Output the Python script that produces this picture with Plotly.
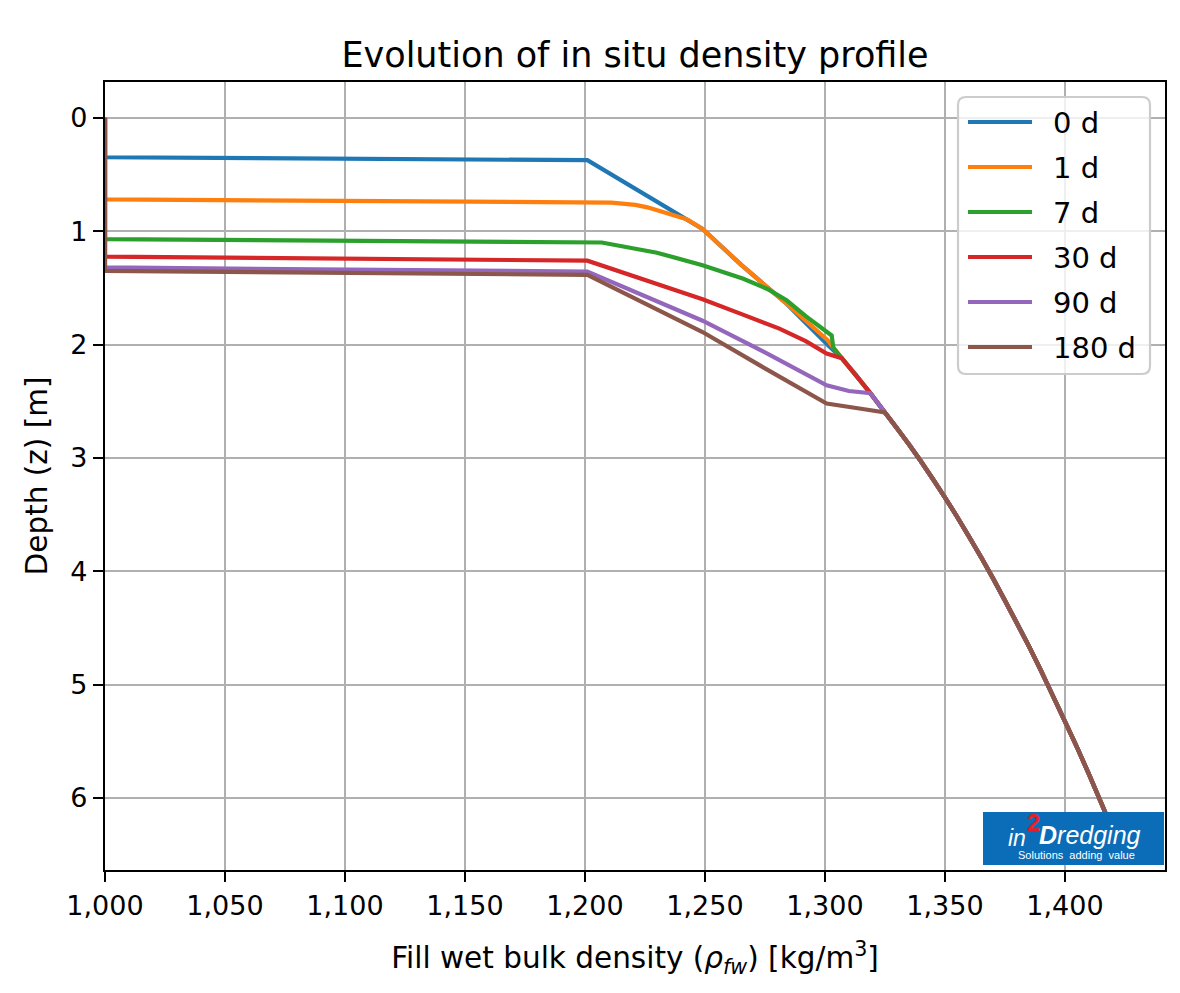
import plotly.graph_objects as go

# ---------------- data ----------------
labels = ["0 d", "1 d", "7 d", "30 d", "90 d", "180 d"]
colors = ["#1f77b4", "#ff7f0e", "#2ca02c", "#d62728", "#9467bd", "#8c564b"]

# common deep part of the profile (all curves merge into it)
tail_rho = [1319, 1325, 1330, 1335, 1340, 1345, 1350, 1355, 1360, 1365, 1370, 1375,
            1380, 1385, 1390, 1395, 1400, 1405, 1410, 1415, 1421]
tail_z = [2.43, 2.60, 2.737, 2.88, 3.03, 3.186, 3.348, 3.517, 3.692, 3.873, 4.061, 4.255,
          4.455, 4.662, 4.875, 5.094, 5.32, 5.552, 5.79, 6.035, 6.337]

d0_rho = [1000, 1000, 1201, 1249, 1265, 1284, 1301, 1307, 1313]
d0_z = [0, 0.348, 0.374, 0.98, 1.295, 1.64, 2.00, 2.12, 2.27]

d1_rho = [1000, 1000, 1211, 1216, 1221, 1226, 1231, 1237, 1242.4, 1249, 1265, 1284, 1301, 1307, 1313]
d1_z = [0, 0.72, 0.748, 0.755, 0.768, 0.79, 0.82, 0.855, 0.895, 0.98, 1.295, 1.64, 1.96, 2.12, 2.27]

d7_rho = [1000, 1000, 1207, 1215, 1230, 1249, 1266, 1276, 1284, 1292, 1300.7, 1302.8, 1303.5, 1307, 1313]
d7_z = [0, 1.07, 1.10, 1.13, 1.19, 1.30, 1.42, 1.51, 1.61, 1.75, 1.89, 1.92, 2.03, 2.12, 2.27]

d30_rho = [1000, 1000, 1201, 1225, 1249, 1265, 1281, 1292, 1300.7, 1307, 1313]
d30_z = [0, 1.225, 1.26, 1.43, 1.60, 1.73, 1.86, 1.97, 2.08, 2.12, 2.27]

d90_rho = [1000, 1000, 1201, 1225, 1249, 1275, 1300.7, 1310]
d90_z = [0, 1.32, 1.357, 1.57, 1.79, 2.07, 2.36, 2.41]

d180_rho = [1000, 1000, 1201, 1225, 1249, 1275, 1300.7, 1313]
d180_z = [0, 1.35, 1.386, 1.64, 1.89, 2.21, 2.52, 2.56]

series = [
    (d0_rho + tail_rho, d0_z + tail_z),
    (d1_rho + tail_rho, d1_z + tail_z),
    (d7_rho + tail_rho, d7_z + tail_z),
    (d30_rho + tail_rho, d30_z + tail_z),
    (d90_rho + tail_rho, d90_z + tail_z),
    (d180_rho + tail_rho[1:], d180_z + tail_z[1:]),
]

x_ticks = [1000, 1050, 1100, 1150, 1200, 1250, 1300, 1350, 1400]
y_ticks = [0, 1, 2, 3, 4, 5, 6]

# ---------------- layout helpers (pixel -> paper) ----------------
W, H = 1180, 993
L, R, T, B = 105, 1165, 82, 870


def px(x):
    return (x - L) / (R - L)


def py(y):
    return (B - y) / (B - T)


FONT = "DejaVu Sans"

fig = go.Figure()
for (xs, zs), name, c in zip(series, labels, colors):
    fig.add_trace(go.Scatter(x=xs, y=zs, mode="lines", name=name,
                             line=dict(color=c, width=4.2),
                             showlegend=False))

axis_common = dict(
    showgrid=True, gridcolor="#b0b0b0", gridwidth=2.4,
    showline=True, linecolor="black", linewidth=2.4, mirror=True,
    ticks="outside", ticklen=10, tickwidth=2.4, tickcolor="black",
    zeroline=False, tickfont=dict(family=FONT, size=27, color="black"),
)

fig.update_layout(
    width=W, height=H,
    margin=dict(l=L, r=W - R, t=T, b=H - B),
    paper_bgcolor="white", plot_bgcolor="white",
    font=dict(family=FONT, color="black"),
    showlegend=False,
    title=dict(text="Evolution of in situ density profile",
               font=dict(family=FONT, size=35, color="black"),
               x=0.5, xref="paper", xanchor="center",
               y=1 - 55 / H, yref="container", yanchor="middle"),
    xaxis=dict(range=[1000, 1441.7], tickvals=x_ticks, tickformat=",d",
               title=dict(text="Fill wet bulk density (<i>ρ</i><sub><i>fw</i></sub>) [kg/m<sup>3</sup>]",
                          font=dict(family=FONT, size=29.5), standoff=28),
               **axis_common),
    yaxis=dict(range=[6.636, -0.316], tickvals=y_ticks,
               title=dict(text="Depth (z) [m]", font=dict(family=FONT, size=29.5), standoff=14),
               **axis_common),
)

# ---------------- legend drawn as shapes + text ----------------
lx0, ly0, lx1, ly1, rr = 958, 97, 1150, 374, 8
rx = rr / (R - L)
ry = rr / (B - T)
path = (f"M{px(lx0)+rx},{py(ly0)} L{px(lx1)-rx},{py(ly0)} Q{px(lx1)},{py(ly0)} {px(lx1)},{py(ly0)-ry} "
        f"L{px(lx1)},{py(ly1)+ry} Q{px(lx1)},{py(ly1)} {px(lx1)-rx},{py(ly1)} "
        f"L{px(lx0)+rx},{py(ly1)} Q{px(lx0)},{py(ly1)} {px(lx0)},{py(ly1)+ry} "
        f"L{px(lx0)},{py(ly0)-ry} Q{px(lx0)},{py(ly0)} {px(lx0)+rx},{py(ly0)} Z")
shapes = [dict(type="path", path=path, xref="paper", yref="paper",
               fillcolor="rgba(255,255,255,0.8)", line=dict(color="#cccccc", width=2.2),
               layer="above")]
annotations = []
row_y = [122, 167, 212, 257, 302, 347]
for yy, name, c in zip(row_y, labels, colors):
    shapes.append(dict(type="line", xref="paper", yref="paper",
                       x0=px(968), x1=px(1032), y0=py(yy), y1=py(yy),
                       line=dict(color=c, width=4.2), layer="above"))
    annotations.append(dict(text=name, xref="paper", yref="paper", x=px(1051), y=py(yy + 1),
                            xanchor="left", yanchor="middle", showarrow=False,
                            font=dict(family=FONT, size=29, color="black")))

# ---------------- logo ----------------
shapes.append(dict(type="rect", xref="paper", yref="paper",
                   x0=px(983), x1=px(1164), y0=py(865), y1=py(812),
                   fillcolor="#0b6cb8", line=dict(width=0), layer="above"))
annotations += [
    dict(text="<i>in</i>", xref="paper", yref="paper", x=px(1017), y=py(838),
         xanchor="center", yanchor="middle", showarrow=False,
         font=dict(family="Liberation Sans", size=23, color="white")),
    dict(text="<b>2</b>", xref="paper", yref="paper", x=px(1033), y=py(822),
         xanchor="center", yanchor="middle", showarrow=False,
         font=dict(family="Liberation Sans", size=24, color="#e2202a")),
    dict(text="<i><b>D</b>redging</i>", xref="paper", yref="paper", x=px(1037), y=py(835),
         xanchor="left", yanchor="middle", showarrow=False,
         font=dict(family="Liberation Sans", size=25, color="white")),
    dict(text="Solutions  adding  value", xref="paper", yref="paper", x=px(1076), y=py(855),
         xanchor="center", yanchor="middle", showarrow=False,
         font=dict(family="Liberation Sans", size=11, color="white")),
]

fig.update_layout(shapes=shapes, annotations=annotations)

fig.write_html("out.html")
